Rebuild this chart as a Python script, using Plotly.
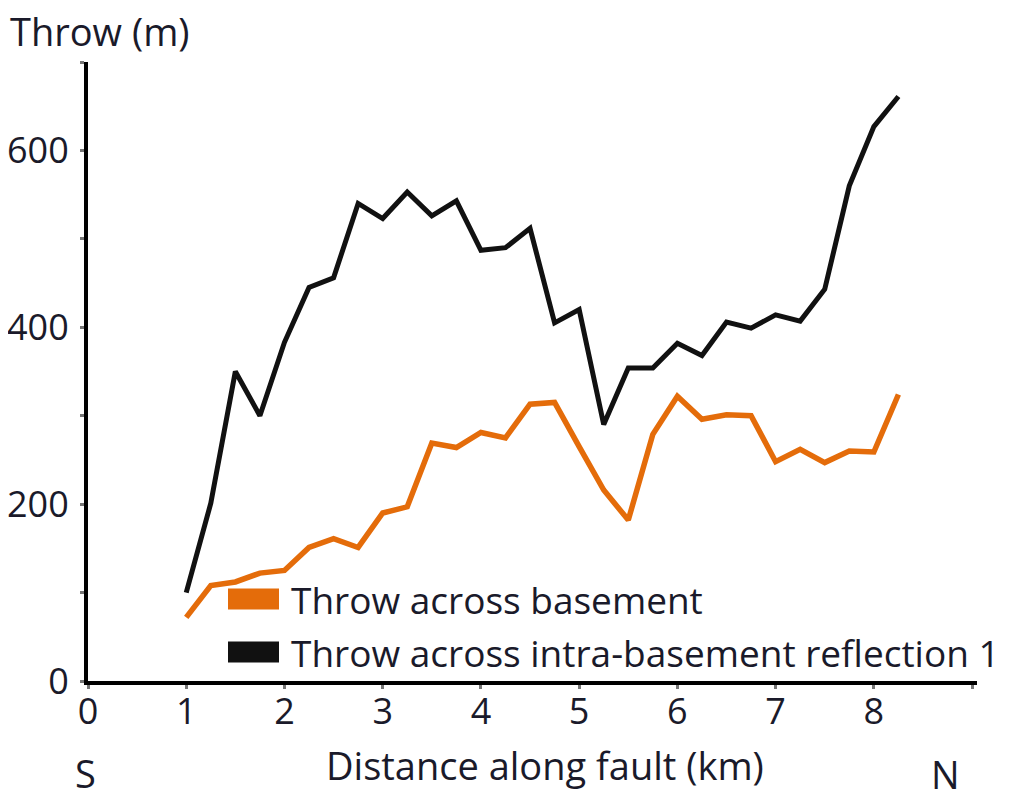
import plotly.graph_objects as go

# Distance along fault (km)
distance_km = [1.0, 1.25, 1.5, 1.75, 2.0, 2.25, 2.5, 2.75, 3.0, 3.25, 3.5, 3.75, 4.0, 4.25, 4.5,
               4.75, 5.0, 5.25, 5.5, 5.75, 6.0, 6.25, 6.5, 6.75, 7.0, 7.25, 7.5, 7.75, 8.0, 8.25]

# Throw across basement (m)
throw_basement = [72, 108, 112, 122, 125, 151, 161, 151, 190, 197, 269, 264, 281, 275, 313,
                  315, 265, 216, 182, 279, 322, 296, 301, 300, 248, 262, 247, 260, 259, 324]

# Throw across intra-basement reflection 1 (m)
throw_intra = [100, 201, 350, 300, 383, 445, 456, 540, 523, 553, 526, 543, 487, 490, 512,
               405, 420, 290, 354, 354, 382, 368, 406, 399, 414, 407, 443, 560, 627, 661]

x_tickvals = [0, 1, 2, 3, 4, 5, 6, 7, 8, 9]
x_ticktext = ["0", "1", "2", "3", "4", "5", "6", "7", "8", ""]
y_tickvals = [0, 100, 200, 300, 400, 500, 600, 700]
y_ticktext = ["0", "", "200", "", "400", "", "600", ""]

ORANGE = "#E46C0A"
BLACK = "#111111"
TEXT = "#1a1a2a"
FONT = "Open Sans"
FS_TICK = 36
FS_TEXT = 38
FS_LEGEND = 37

OFF = 8  # page body margin
W, H = 1018 - OFF, 792 - OFF
ML, MR, MT, MB = 88 - OFF, 41, 62 - OFF, 111
PW = W - ML - MR
PH = H - MT - MB


def px(xp):
    # page pixel -> paper coordinate
    return (xp - OFF - ML) / PW


def py(yp):
    return (H - MB - (yp - OFF)) / PH


fig = go.Figure()
fig.add_trace(go.Scatter(x=distance_km, y=throw_basement, mode="lines",
                         line=dict(color=ORANGE, width=5.5), name="Throw across basement",
                         showlegend=False))
fig.add_trace(go.Scatter(x=distance_km, y=throw_intra, mode="lines",
                         line=dict(color=BLACK, width=5), name="Throw across intra-basement reflection 1",
                         showlegend=False))

# legend swatches & labels
legend_items = [("Throw across basement", ORANGE, 599), ("Throw across intra-basement reflection 1", BLACK, 652)]
shapes = []
annotations = []
for label, col, yc in legend_items:
    shapes.append(dict(type="rect", xref="paper", yref="paper",
                       x0=px(228), x1=px(279), y0=py(yc - 10.5), y1=py(yc + 10.5),
                       fillcolor=col, line=dict(width=0)))
    annotations.append(dict(text=label, xref="paper", yref="paper", x=px(289), y=py(yc),
                            xanchor="left", yanchor="middle", showarrow=False,
                            font=dict(family=FONT, size=FS_LEGEND, color=TEXT)))

annotations.append(dict(text="Throw (m)", xref="paper", yref="paper", x=px(8), y=py(31),
                        xanchor="left", yanchor="middle", showarrow=False,
                        font=dict(family=FONT, size=FS_TEXT, color=TEXT)))
annotations.append(dict(text="Distance along fault (km)", xref="paper", yref="paper", x=px(545), y=py(765),
                        xanchor="center", yanchor="middle", showarrow=False,
                        font=dict(family=FONT, size=FS_TEXT, color=TEXT)))
annotations.append(dict(text="S", xref="paper", yref="paper", x=px(85), y=py(773),
                        xanchor="center", yanchor="middle", showarrow=False,
                        font=dict(family=FONT, size=FS_TEXT, color=TEXT)))
annotations.append(dict(text="N", xref="paper", yref="paper", x=px(945), y=py(774),
                        xanchor="center", yanchor="middle", showarrow=False,
                        font=dict(family=FONT, size=FS_TEXT, color=TEXT)))

fig.update_layout(
    width=W, height=H,
    margin=dict(l=ML, r=MR, t=MT, b=MB, pad=0, autoexpand=False),
    paper_bgcolor="white", plot_bgcolor="white",
    shapes=shapes, annotations=annotations,
    font=dict(family=FONT, size=FS_TICK, color=TEXT),
)
fig.update_xaxes(range=[0, 9.05], tickvals=x_tickvals, ticktext=x_ticktext, automargin=False,
                 showgrid=False, zeroline=False, showline=True, linecolor="black", linewidth=4,
                 ticks="outside", ticklen=4, tickwidth=3, tickcolor="#777777",
                 tickfont=dict(family=FONT, size=FS_TICK, color=TEXT), ticklabelstandoff=-8)
fig.update_yaxes(range=[0, 700], tickvals=y_tickvals, ticktext=y_ticktext, automargin=False,
                 showgrid=False, zeroline=False, showline=True, linecolor="black", linewidth=4,
                 ticks="outside", ticklen=4, tickwidth=3, tickcolor="#777777",
                 tickfont=dict(family=FONT, size=FS_TICK, color=TEXT), ticklabelstandoff=4)

fig.write_html("out.html")
